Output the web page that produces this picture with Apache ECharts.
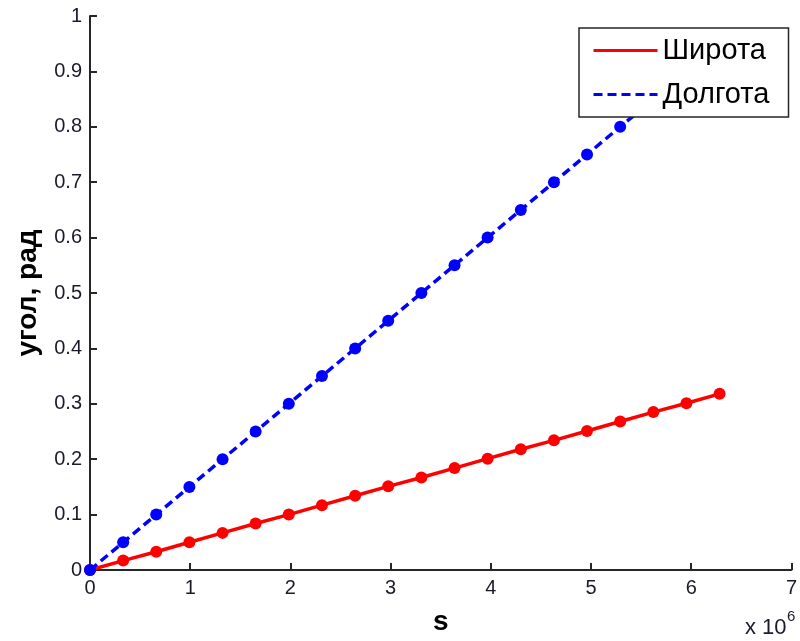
<!DOCTYPE html>
<html><head><meta charset="utf-8">
<script src="https://cdn.jsdelivr.net/npm/echarts@6/dist/echarts.min.js"></script>
<style>html,body{margin:0;padding:0;background:#fff}#c{width:800px;height:641px}</style>
</head><body><div id="c"></div>
<script>
// s values (in units of 10^6)
const sValues = [0, 0.331, 0.661, 0.992, 1.323, 1.653, 1.984, 2.315, 2.646, 2.976, 3.307, 3.638, 3.968, 4.299, 4.630, 4.960, 5.291, 5.622, 5.952, 6.283];
const latitude = [0, 0.017, 0.033, 0.050, 0.067, 0.084, 0.100, 0.117, 0.134, 0.151, 0.167, 0.184, 0.201, 0.218, 0.234, 0.251, 0.268, 0.285, 0.301, 0.318];
const longitude = [0, 0.05, 0.10, 0.15, 0.20, 0.25, 0.30, 0.35, 0.40, 0.45, 0.50, 0.55, 0.60, 0.65, 0.70, 0.75, 0.80, 0.85, 0.90, 0.95];
const seriesNames = ['Широта', 'Долгота'];
const xTitle = 's';
const yTitle = 'угол, рад';

const chart = echarts.init(document.getElementById('c'), null, {renderer: 'canvas'});
const font = 'Liberation Sans, Arial, sans-serif';
const pairs = (ys) => sValues.map((x, i) => [x, ys[i]]);
chart.setOption({
  animation: false,
  backgroundColor: '#fff',
  grid: {left: 90, right: 4, top: 16, bottom: 69, containLabel: false},
  xAxis: {
    type: 'value', min: 0, max: 7, interval: 1,
    name: xTitle, nameLocation: 'middle', nameGap: 38,
    nameTextStyle: {fontFamily: font, fontSize: 28, fontWeight: 'bold', color: '#000'},
    axisLine: {lineStyle: {color: '#262626', width: 2}},
    axisTick: {inside: true, length: 7, lineStyle: {color: '#262626', width: 2}},
    axisLabel: {fontFamily: font, fontSize: 20, color: '#1a1a2a', margin: 8},
    splitLine: {show: false}
  },
  yAxis: {
    type: 'value', min: 0, max: 1, interval: 0.1,
    name: yTitle, nameLocation: 'middle', nameGap: 48, nameRotate: 90,
    nameTextStyle: {fontFamily: font, fontSize: 28, fontWeight: 'bold', color: '#000'},
    axisLine: {lineStyle: {color: '#262626', width: 2}},
    axisTick: {inside: true, length: 7, lineStyle: {color: '#262626', width: 2}},
    axisLabel: {fontFamily: font, fontSize: 20, color: '#1a1a2a', margin: 8,
      formatter: v => (Math.round(v * 10) / 10).toString()},
    splitLine: {show: false}
  },
  legend: {
    orient: 'vertical', left: 579, top: 28,
    data: seriesNames,
    backgroundColor: '#fff', borderColor: '#262626', borderWidth: 1.5,
    padding: [7, 16, 7, 13], itemGap: 13, itemWidth: 64, itemHeight: 14,
    itemStyle: {opacity: 0},
    lineStyle: {width: 3},
    textStyle: {fontFamily: font, fontSize: 29, color: '#000', lineHeight: 31, width: 110},
    selectedMode: false, z: 10
  },
  graphic: [{
    type: 'text', left: 745, top: 617,
    style: {text: 'x 10', font: '22px ' + font, fill: '#1a1a2a'}
  }, {
    type: 'text', left: 787, top: 609,
    style: {text: '6', font: '15px ' + font, fill: '#1a1a2a'}
  }],
  series: [{
    name: seriesNames[0], type: 'line', data: pairs(latitude),
    symbol: 'circle', symbolSize: 12, color: '#ff0000',
    lineStyle: {color: '#ff0000', width: 3.5}, itemStyle: {color: '#ff0000'}, z: 2
  }, {
    name: seriesNames[1], type: 'line', data: pairs(longitude),
    symbol: 'circle', symbolSize: 12, color: '#0000ff',
    lineStyle: {color: '#0000ff', width: 3.5, type: [9, 5]}, itemStyle: {color: '#0000ff'}, z: 3
  }]
});
</script></body></html>
